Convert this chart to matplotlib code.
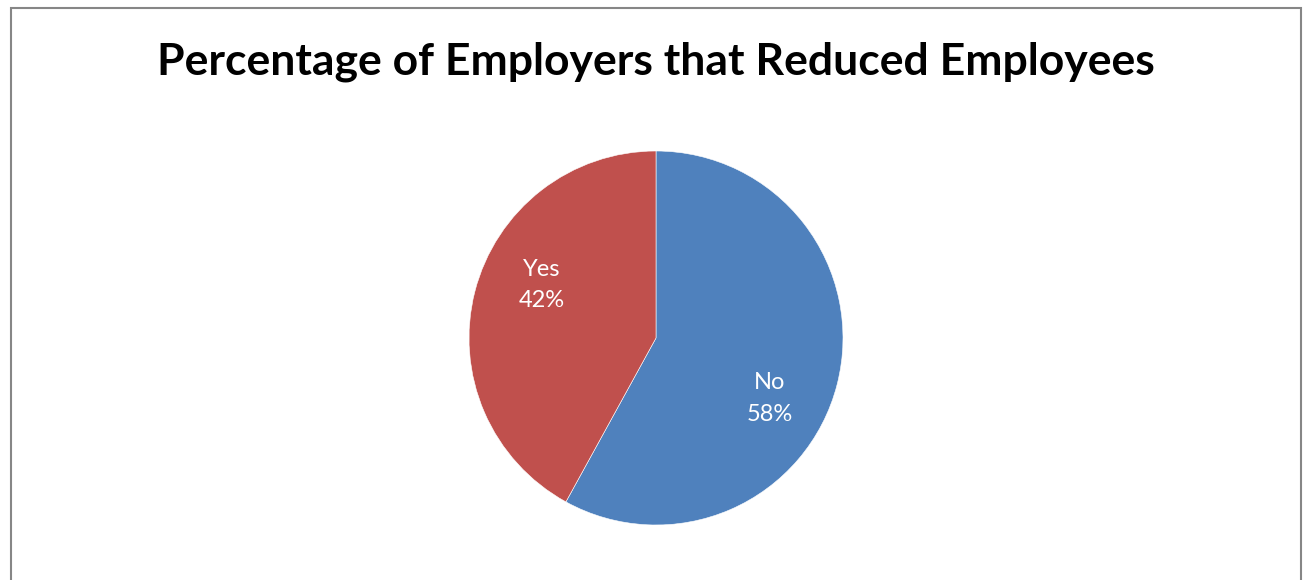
import numpy as np
import matplotlib.pyplot as plt
from matplotlib.patches import Rectangle

categories = ["No", "Yes"]
shares = [58, 42]
colors = ["#4F81BD", "#C0504D"]

plt.rcParams['font.family'] = ['Lato', 'DejaVu Sans']

W, H = 1304, 580
fig = plt.figure(figsize=(W / 100, H / 100), dpi=100)

# chart-area frame (bottom edge runs off the canvas)
fig.patches.append(Rectangle((11 / W, -0.05), (1301 - 11) / W, 1.05 - 8 / H,
                             transform=fig.transFigure, fill=False,
                             edgecolor="#868686", linewidth=1.5))

fig.text(656 / W, 1 - 62 / H, "Percentage of Employers that Reduced Employees",
         ha="center", va="center", fontsize=32, fontweight="bold", color="black")

cx, cy, r = 656, 338, 187
ax = fig.add_axes([(cx - r) / W, (H - cy - r) / H, 2 * r / W, 2 * r / H])
labels = [f"{c}\n{v}%" for c, v in zip(categories, shares)]
wedges, texts = ax.pie(shares, colors=colors, startangle=90,
                       counterclock=False,
                       wedgeprops=dict(linewidth=0.4, edgecolor="white"))

# data labels sit inside each slice, nudged a little clockwise
for w, lab in zip(wedges, labels):
    ang = np.deg2rad((w.theta1 + w.theta2) / 2 - 12)
    ax.text(0.68 * np.cos(ang), 0.68 * np.sin(ang) - 0.02, lab, color="white",
            fontsize=17, ha="center", va="center", linespacing=1.62)

ax.set_xlim(-1, 1)
ax.set_ylim(-1, 1)
ax.set_aspect("equal")

fig.savefig("out.png", dpi=100)
